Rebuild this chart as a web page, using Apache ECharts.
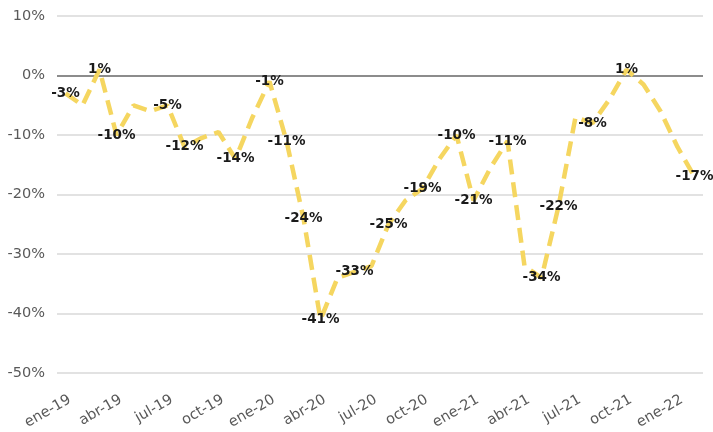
<!DOCTYPE html>
<html>
<head>
<meta charset="utf-8">
<script src="https://cdn.jsdelivr.net/npm/echarts@6/dist/echarts.min.js"></script>
<style>html,body{margin:0;padding:0;background:#fff}#c{width:713px;height:432px}</style>
</head>
<body>
<div id="c"></div>
<script>
const categories = ["ene-19","feb-19","mar-19","abr-19","may-19","jun-19","jul-19","ago-19","sep-19","oct-19","nov-19","dic-19",
  "ene-20","feb-20","mar-20","abr-20","may-20","jun-20","jul-20","ago-20","sep-20","oct-20","nov-20","dic-20",
  "ene-21","feb-21","mar-21","abr-21","may-21","jun-21","jul-21","ago-21","sep-21","oct-21","nov-21","dic-21",
  "ene-22","feb-22"];
const values = [-3,-5,1,-10,-5,-6,-5,-12,-10.5,-9.5,-14,-7,
  -1,-11,-24,-41,-34,-33,-32,-25,-21,-19,-14,-10,
  -21,-15.5,-11,-32,-34,-22,-7,-8,-4,1,-1.5,-6,
  -12,-17];
const labeledIdx = [0,2,3,6,7,10,12,13,14,15,17,19,21,23,24,26,28,29,31,33,37];
const yTicks = {min:-50, max:10, interval:10};

const data = values.map((v,i)=>({
  value: v,
  label: {show: labeledIdx.indexOf(i) >= 0}
}));

const chart = echarts.init(document.getElementById('c'));
chart.setOption({
  animation:false,
  backgroundColor:'#fff',
  grid:{left:57,right:10,top:16,bottom:58},
  xAxis:{
    type:'category', data:categories, boundaryGap:true,
    axisLine:{show:false, onZero:false},
    axisTick:{show:false},
    axisLabel:{interval:2, rotate:30, color:'#595959', fontSize:14.5, fontFamily:'DejaVu Sans', margin:28, padding:[0,-5,0,0]},
    splitLine:{show:false}
  },
  yAxis:{
    type:'value', min:yTicks.min, max:yTicks.max, interval:yTicks.interval,
    axisLine:{show:false}, axisTick:{show:false},
    axisLabel:{formatter:v=>v+'%', color:'#595959', fontSize:14.5, fontFamily:'DejaVu Sans', margin:12},
    splitLine:{lineStyle:{color:'#d9d9d9', width:1.5}}
  },
  series:[{
    type:'line', data:data,
    symbol:'circle', symbolSize:1, showSymbol:true,
    itemStyle:{color:'rgba(0,0,0,0)'},
    lineStyle:{color:'#F5D660', width:4.5, type:[15,8], cap:'butt'},
    label:{position:'inside', formatter:p=>Math.round(p.value)+'%', color:'#1a1a1a', fontWeight:'bold', fontSize:13.5, fontFamily:'DejaVu Sans'},
    markLine:{silent:true, symbol:'none', label:{show:false}, z:1,
      lineStyle:{color:'#8c8c8c', width:2, type:'solid'},
      data:[{yAxis:0}]}
  }]
});
</script>
</body>
</html>
